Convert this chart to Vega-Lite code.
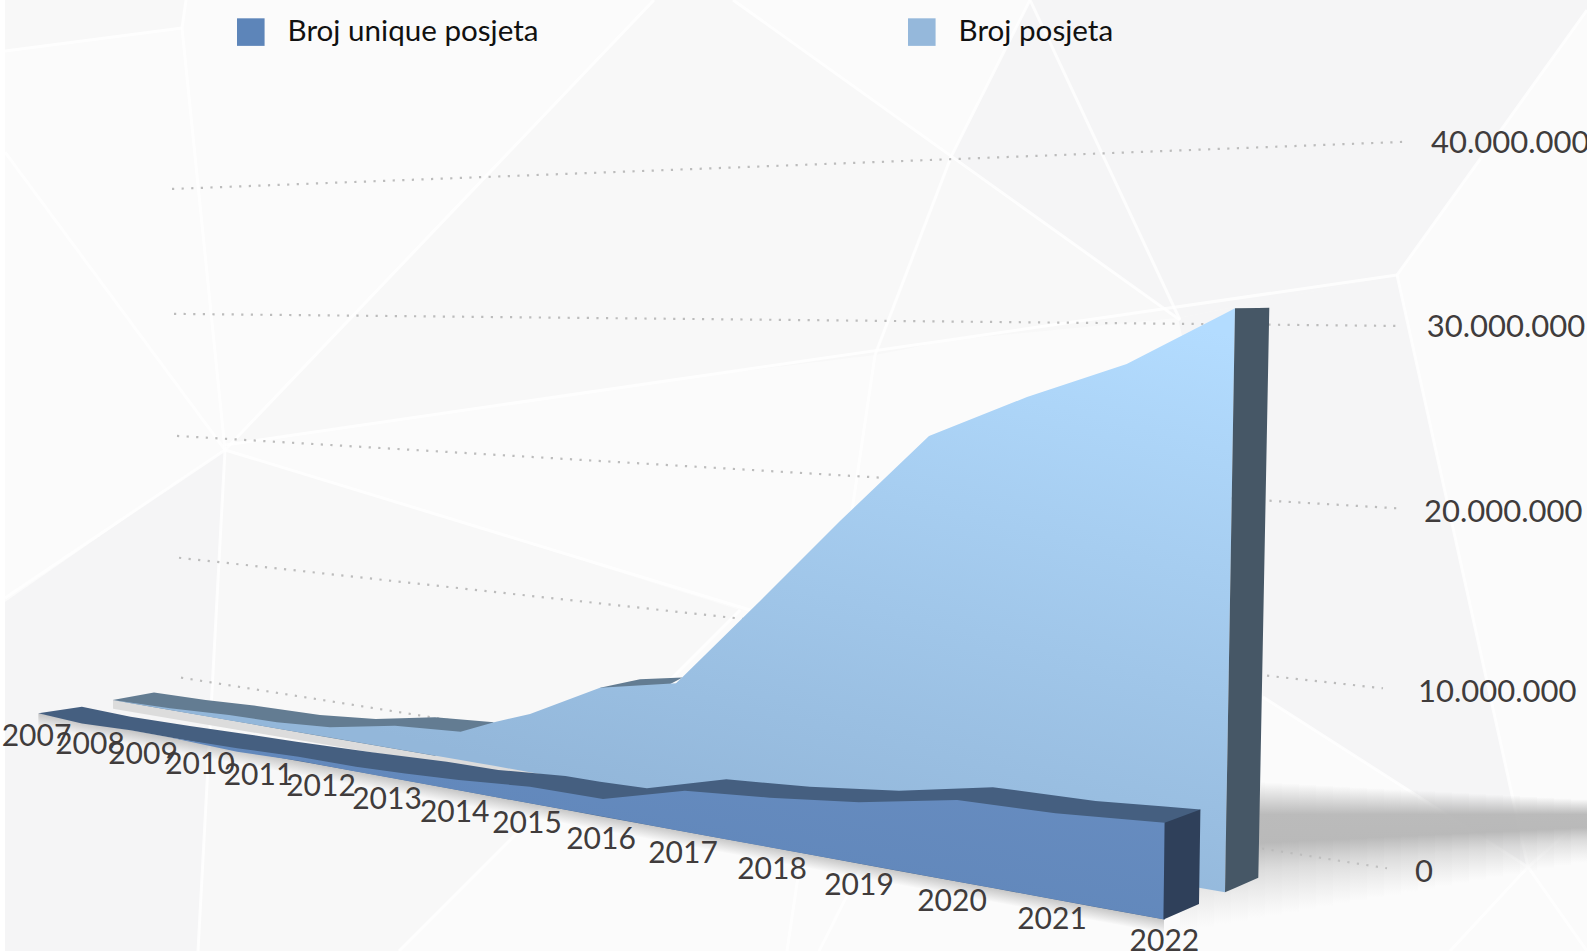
{"$schema":"https://vega.github.io/schema/vega-lite/v6.json","width":1587,"height":951,"autosize":{"type":"none"},"padding":0,"background":"#ffffff","config":{"view":{"stroke":null},"font":"Lato"},
"encoding":{"x":{"field":"pos","type":"quantitative","scale":{"domain":[0,1587],"nice":false,"zero":false},"axis":null},"y":{"field":"m","type":"quantitative","scale":{"domain":[-5.056,47.778],"nice":false,"zero":false},"axis":null}},
"layer":[
{"data":{"values":[{"pos":5,"m":47.778,"m2":-5.056},{"pos":1587,"m":47.778,"m2":-5.056}]},"mark":{"type":"area","color":"#fbfbfb"},"encoding":{"y2":{"field":"m2"}}},
{"data":{"values":[
{"f":"C","pos":225,"m":22.78,"m2":23.06},{"f":"C","pos":654,"m":47.78,"m2":26.5},{"f":"C","pos":733,"m":47.78,"m2":27.1},{"f":"C","pos":875,"m":42.1,"m2":28.06},{"f":"C","pos":951,"m":39.06,"m2":39.06},
{"f":"H","pos":875,"m":28.06,"m2":28.06},{"f":"H","pos":951,"m":39.06,"m2":28.89},{"f":"H","pos":1178,"m":30.11,"m2":30.11},
{"f":"E","pos":198,"m":-5.06,"m2":-5.06},{"f":"E","pos":225,"m":22.78,"m2":-5.06},{"f":"E","pos":399,"m":19.83,"m2":-5.06},{"f":"E","pos":740,"m":13.89,"m2":13.89},
{"f":"G","pos":5,"m":47.78,"m2":44.94},{"f":"G","pos":182,"m":47.78,"m2":46.22},{"f":"G","pos":186,"m":47.78,"m2":47.78}
]},"mark":{"type":"area","color":"#f8f8f8"},"encoding":{"detail":{"field":"f"},"y2":{"field":"m2"}}},
{"data":{"values":[
{"f":"A","pos":951,"m":39.06,"m2":39.06},{"f":"A","pos":1030,"m":47.78,"m2":35.94},{"f":"A","pos":1178,"m":47.78,"m2":30.11},{"f":"A","pos":1397,"m":47.78,"m2":32.5},{"f":"A","pos":1587,"m":47.78,"m2":47.22},
{"f":"B","pos":1178,"m":30.11,"m2":30.11},{"f":"B","pos":1263,"m":31.06,"m2":9.06},{"f":"B","pos":1397,"m":32.5,"m2":4.28},{"f":"B","pos":1528,"m":-0.39,"m2":-0.39},
{"f":"D","pos":5,"m":14.33,"m2":-5.06},{"f":"D","pos":198,"m":21.78,"m2":-5.06},{"f":"D","pos":225,"m":22.78,"m2":22.78}
]},"mark":{"type":"area","color":"#f5f5f6"},"encoding":{"detail":{"field":"f"},"y2":{"field":"m2"}}},
{"data":{"values":[
{"pos":5,"m":44.94,"pos2":182,"m2":46.22},{"pos":182,"m":46.22,"pos2":186,"m2":47.78},{"pos":182,"m":46.22,"pos2":225,"m2":22.78},{"pos":225,"m":22.78,"pos2":198,"m2":-5.06},{"pos":5,"m":39.33,"pos2":225,"m2":22.78},{"pos":225,"m":22.78,"pos2":5,"m2":14.56},{"pos":225,"m":22.78,"pos2":654,"m2":47.78},{"pos":225,"m":22.78,"pos2":750,"m2":13.89},{"pos":733,"m":47.78,"pos2":1180,"m2":30},{"pos":1030,"m":47.78,"pos2":951,"m2":39.06},{"pos":951,"m":39.06,"pos2":875,"m2":28.06},{"pos":875,"m":28.06,"pos2":787,"m2":-5.06},{"pos":225,"m":23.06,"pos2":1397,"m2":32.5},{"pos":1030,"m":47.78,"pos2":1180,"m2":30},{"pos":1397,"m":32.5,"pos2":1528,"m2":-0.39},{"pos":1528,"m":-0.39,"pos2":1587,"m2":-5.06},{"pos":1528,"m":-0.39,"pos2":1450,"m2":-5.06},{"pos":1528,"m":-0.39,"pos2":1587,"m2":2.5},{"pos":1397,"m":32.5,"pos2":1587,"m2":47.22},{"pos":1263,"m":9.06,"pos2":1528,"m2":-0.39},{"pos":399,"m":-5.06,"pos2":740,"m2":13.89},{"pos":819,"m":-5.06,"pos2":860,"m2":-0.56}
]},"mark":{"type":"rule","color":"#ffffff","strokeWidth":3,"opacity":0.8},"encoding":{"x2":{"field":"pos2"},"y2":{"field":"m2"}}},
{"data":{"values":[
{"tick":40000000,"pos":172,"m":37.28,"pos2":1405,"m2":39.9},{"tick":30000000,"pos":174,"m":30.34,"pos2":1397,"m2":29.67},{"tick":20000000,"pos":177,"m":23.56,"pos2":1397,"m2":19.54},{"tick":10000000,"pos":179,"m":16.79,"pos2":1383,"m2":9.54},{"tick":0,"pos":181,"m":10.13,"pos2":1387,"m2":-0.46}
]},"mark":{"type":"rule","color":"#bcbcbc","strokeWidth":2.2,"strokeDash":[2.2,7.4]},"encoding":{"x2":{"field":"pos2"},"y2":{"field":"m2"}}},
{"data":{"values":[
{"s":0,"pos":1180,"m":4.56,"m2":-3.89},{"s":0,"pos":1197,"m":4.56,"m2":-3.89},{"s":1,"pos":1197,"m":4.51,"m2":-3.73},{"s":1,"pos":1214,"m":4.51,"m2":-3.73},
{"s":2,"pos":1214,"m":4.46,"m2":-3.57},{"s":2,"pos":1231,"m":4.46,"m2":-3.57},{"s":3,"pos":1231,"m":4.41,"m2":-3.41},{"s":3,"pos":1248,"m":4.41,"m2":-3.41},
{"s":4,"pos":1248,"m":4.35,"m2":-3.24},{"s":4,"pos":1265,"m":4.35,"m2":-3.24},{"s":5,"pos":1265,"m":4.30,"m2":-3.08},{"s":5,"pos":1282,"m":4.30,"m2":-3.08},
{"s":6,"pos":1282,"m":4.25,"m2":-2.92},{"s":6,"pos":1299,"m":4.25,"m2":-2.92},{"s":7,"pos":1299,"m":4.20,"m2":-2.76},{"s":7,"pos":1316,"m":4.20,"m2":-2.76},
{"s":8,"pos":1316,"m":4.14,"m2":-2.59},{"s":8,"pos":1333,"m":4.14,"m2":-2.59},{"s":9,"pos":1333,"m":4.09,"m2":-2.43},{"s":9,"pos":1350,"m":4.09,"m2":-2.43},
{"s":10,"pos":1350,"m":4.04,"m2":-2.27},{"s":10,"pos":1367,"m":4.04,"m2":-2.27},{"s":11,"pos":1367,"m":3.99,"m2":-2.11},{"s":11,"pos":1384,"m":3.99,"m2":-2.11},
{"s":12,"pos":1384,"m":3.94,"m2":-1.94},{"s":12,"pos":1401,"m":3.94,"m2":-1.94},{"s":13,"pos":1401,"m":3.89,"m2":-1.78},{"s":13,"pos":1418,"m":3.89,"m2":-1.78},
{"s":14,"pos":1418,"m":3.84,"m2":-1.62},{"s":14,"pos":1435,"m":3.84,"m2":-1.62},{"s":15,"pos":1435,"m":3.79,"m2":-1.46},{"s":15,"pos":1452,"m":3.79,"m2":-1.46},
{"s":16,"pos":1452,"m":3.74,"m2":-1.30},{"s":16,"pos":1469,"m":3.74,"m2":-1.30},{"s":17,"pos":1469,"m":3.68,"m2":-1.13},{"s":17,"pos":1486,"m":3.68,"m2":-1.13},
{"s":18,"pos":1486,"m":3.63,"m2":-0.97},{"s":18,"pos":1503,"m":3.63,"m2":-0.97},{"s":19,"pos":1503,"m":3.58,"m2":-0.81},{"s":19,"pos":1520,"m":3.58,"m2":-0.81},
{"s":20,"pos":1520,"m":3.53,"m2":-0.64},{"s":20,"pos":1537,"m":3.53,"m2":-0.64},{"s":21,"pos":1537,"m":3.48,"m2":-0.48},{"s":21,"pos":1554,"m":3.48,"m2":-0.48},
{"s":22,"pos":1554,"m":3.43,"m2":-0.32},{"s":22,"pos":1571,"m":3.43,"m2":-0.32},{"s":23,"pos":1571,"m":3.38,"m2":-0.16},{"s":23,"pos":1588,"m":3.38,"m2":-0.16}
]},"mark":{"type":"area","color":{"gradient":"linear","x1":0,"y1":0,"x2":0,"y2":1,"stops":[{"offset":0,"color":"rgba(175,175,175,0)"},{"offset":0.24,"color":"rgba(180,180,180,0.9)"},{"offset":0.45,"color":"rgba(182,182,182,0.95)"},{"offset":0.65,"color":"rgba(195,195,195,0.55)"},{"offset":1,"color":"rgba(210,210,210,0)"}]}},"encoding":{"detail":{"field":"s"},"y2":{"field":"m2"}}},
{"data":{"values":[{"pos":113,"m":8.89,"m2":8.4},{"pos":700,"m":3.42,"m2":2.9}]},"mark":{"type":"area","color":"#dcdcdc"},"encoding":{"y2":{"field":"m2"}}},
{"data":{"values":[{"pos":38.4,"m":8.15,"m2":7.37},{"pos":1164,"m":-3.29,"m2":-4.07}]},"mark":{"type":"area","color":{"gradient":"linear","x1":0.5,"y1":0.4685,"x2":0.468,"y2":0.5026,"stops":[{"offset":0,"color":"rgba(120,120,120,0.4)"},{"offset":1,"color":"rgba(120,120,120,0)"}]}},"encoding":{"y2":{"field":"m2"}}},
{"data":{"values":[
{"part":"a","pos":112.7,"m":8.89,"m2":8.89},{"part":"a","pos":154,"m":9.31,"m2":8.49},{"part":"a","pos":205.6,"m":8.89,"m2":8.0},{"part":"a","pos":257,"m":8.56,"m2":7.5},{"part":"a","pos":320,"m":8.06,"m2":6.89},{"part":"a","pos":375.6,"m":7.83,"m2":6.36},{"part":"a","pos":435,"m":7.93,"m2":5.79},{"part":"a","pos":494,"m":7.65,"m2":7.65},
{"part":"b","pos":600,"m":9.57,"m2":9.57},{"part":"b","pos":640,"m":10.04,"m2":8.89},{"part":"b","pos":682.6,"m":10.14,"m2":10.14}
]},"mark":{"type":"area","color":"#637c92"},"encoding":{"detail":{"field":"part"},"y2":{"field":"m2"}}},
{"data":{"values":[
{"year":2007,"pos":112.7,"m":8.89,"m2":8.89},{"year":2008,"pos":170,"m":8.43,"m2":8.34},{"year":2009,"pos":229,"m":8.06,"m2":7.77},{"year":2010,"pos":276.8,"m":7.65,"m2":7.31},{"year":2011,"pos":330,"m":7.37,"m2":6.80},{"year":2012,"pos":395,"m":7.46,"m2":6.18},{"year":2013,"pos":460.6,"m":7.13,"m2":5.55},{"pos":494,"m":7.65,"m2":5.23},{"year":2014,"pos":530,"m":8.11,"m2":4.88},{"year":2015,"pos":600,"m":9.57,"m2":4.21},{"pos":676,"m":9.82,"m2":3.48},{"year":2016,"pos":682.6,"m":10.17,"m2":3.42},{"year":2017,"pos":759,"m":14.33,"m2":2.68},{"year":2018,"pos":840,"m":18.83,"m2":1.90},{"year":2019,"pos":929,"m":23.56,"m2":1.05},{"year":2020,"pos":1027,"m":25.72,"m2":0.11},{"year":2021,"pos":1126.7,"m":27.56,"m2":-0.85},{"pos":1225,"m":30.36,"m2":-1.79},{"year":2022,"pos":1235,"m":30.65,"m2":30.65}
]},"mark":{"type":"area","color":{"gradient":"linear","x1":0.9,"y1":0,"x2":0.5,"y2":0.85,"stops":[{"offset":0,"color":"#b3dcff"},{"offset":1,"color":"#93b7da"}]}},"encoding":{"y2":{"field":"m2"}}},
{"data":{"values":[{"pos":1225,"m":-1.79,"m2":-1.79},{"pos":1235,"m":30.65,"m2":-1.55},{"pos":1258.3,"m":30.67,"m2":-0.98},{"pos":1269.3,"m":30.68,"m2":30.68}]},"mark":{"type":"area","color":"#465766"},"encoding":{"y2":{"field":"m2"}}},
{"data":{"values":[
{"pos":38.4,"m":8.15,"m2":8.15},{"pos":81.9,"m":8.51,"m2":7.59},{"pos":130.5,"m":7.96,"m2":7.21},{"pos":189.8,"m":7.44,"m2":6.61},{"pos":245.2,"m":7.0,"m2":6.04},{"pos":296.6,"m":6.57,"m2":5.52},{"pos":371.7,"m":5.98,"m2":4.76},{"pos":446.8,"m":5.46,"m2":4.0},{"pos":498.2,"m":5.0,"m2":3.47},{"pos":565.4,"m":4.67,"m2":2.79},{"pos":600,"m":4.35,"m2":2.43},{"pos":646.9,"m":3.98,"m2":1.96},{"pos":726.3,"m":4.48,"m2":1.15},{"pos":809.8,"m":4.07,"m2":0.31},{"pos":899,"m":3.85,"m2":-0.61},{"pos":992.9,"m":4.04,"m2":-1.56},{"pos":1095.5,"m":3.28,"m2":-2.61},{"pos":1164.7,"m":2.97,"m2":-3.31},{"pos":1200.4,"m":2.81,"m2":2.81}
]},"mark":{"type":"area","color":"#455f80"},"encoding":{"y2":{"field":"m2"}}},
{"data":{"values":[
{"year":2007,"pos":38.4,"m":8.15,"m2":8.15},{"year":2008,"pos":100,"m":7.52,"m2":7.52},{"year":2009,"pos":170,"m":6.81,"m2":6.81},{"year":2010,"pos":237.2,"m":6.21,"m2":6.02},{"year":2011,"pos":298.5,"m":5.74,"m2":5.51},{"year":2012,"pos":355.9,"m":5.18,"m2":4.92},{"year":2013,"pos":405,"m":4.8,"m2":4.42},{"year":2014,"pos":458.7,"m":4.44,"m2":3.87},{"year":2015,"pos":529.9,"m":4.07,"m2":3.15},{"year":2016,"pos":603,"m":3.39,"m2":2.41},{"year":2017,"pos":684.8,"m":3.85,"m2":1.57},{"year":2018,"pos":769.6,"m":3.46,"m2":0.71},{"year":2019,"pos":858.9,"m":3.21,"m2":-0.19},{"year":2020,"pos":957.1,"m":3.33,"m2":-1.19},{"year":2021,"pos":1055.4,"m":2.59,"m2":-2.19},{"year":2022,"pos":1164.7,"m":2.07,"m2":-3.31}
]},"mark":{"type":"area","color":{"gradient":"linear","x1":1,"y1":0,"x2":0,"y2":1,"stops":[{"offset":0,"color":"#6a8fc3"},{"offset":1,"color":"#5b82b5"}]}},"encoding":{"y2":{"field":"m2"}}},
{"data":{"values":[{"pos":1163.4,"m":-3.29,"m2":-3.29},{"pos":1164.7,"m":2.07,"m2":-3.28},{"pos":1199,"m":2.78,"m2":-2.44},{"pos":1200.4,"m":2.81,"m2":2.81}]},"mark":{"type":"area","color":"#2f405a"},"encoding":{"y2":{"field":"m2"}}},
{"data":{"values":[
{"label":"2007","pos":36.5,"m":6.83},{"label":"2008","pos":90,"m":6.41},{"label":"2009","pos":143,"m":5.85},{"label":"2010","pos":200,"m":5.3},{"label":"2011","pos":258.5,"m":4.67},{"label":"2012","pos":321,"m":4.06},{"label":"2013","pos":387,"m":3.35},{"label":"2014","pos":454.7,"m":2.61},{"label":"2015","pos":527,"m":1.98},{"label":"2016","pos":601,"m":1.11},{"label":"2017","pos":683,"m":0.35},{"label":"2018","pos":772,"m":-0.54},{"label":"2019","pos":859,"m":-1.46},{"label":"2020","pos":952,"m":-2.33},{"label":"2021","pos":1052,"m":-3.35},{"label":"2022","pos":1164.4,"m":-4.55}
]},"mark":{"type":"text","font":"Lato","fontSize":30,"color":"#403c3c","align":"center","baseline":"middle"},"encoding":{"text":{"field":"label"}}},
{"data":{"values":[
{"label":"0","pos":1415,"m":-0.72},{"label":"10.000.000","pos":1418,"m":9.28},{"label":"20.000.000","pos":1424,"m":19.27},{"label":"30.000.000","pos":1426.7,"m":29.55},{"label":"40.000.000","pos":1431,"m":39.77}
]},"mark":{"type":"text","font":"Lato","fontSize":31,"color":"#403c3c","align":"left","baseline":"middle"},"encoding":{"text":{"field":"label"}}},
{"data":{"values":[{"series":"Broj unique posjeta","pos":0,"m":0},{"series":"Broj posjeta","pos":0,"m":0}]},"mark":{"type":"square","opacity":0},"encoding":{"color":{"field":"series","type":"nominal","sort":["Broj unique posjeta","Broj posjeta"],"scale":{"domain":["Broj unique posjeta","Broj posjeta"],"range":["#5d85b9","#95b8db"]},"legend":{"title":null,"orient":"none","legendX":236,"legendY":17,"direction":"horizontal","columns":2,"columnPadding":368,"symbolType":"square","symbolSize":760,"symbolOpacity":1,"symbolStrokeWidth":0,"labelFont":"Lato","labelFontSize":29.6,"labelColor":"#111111","labelOffset":22,"labelLimit":400,"padding":0}}}}
]}
